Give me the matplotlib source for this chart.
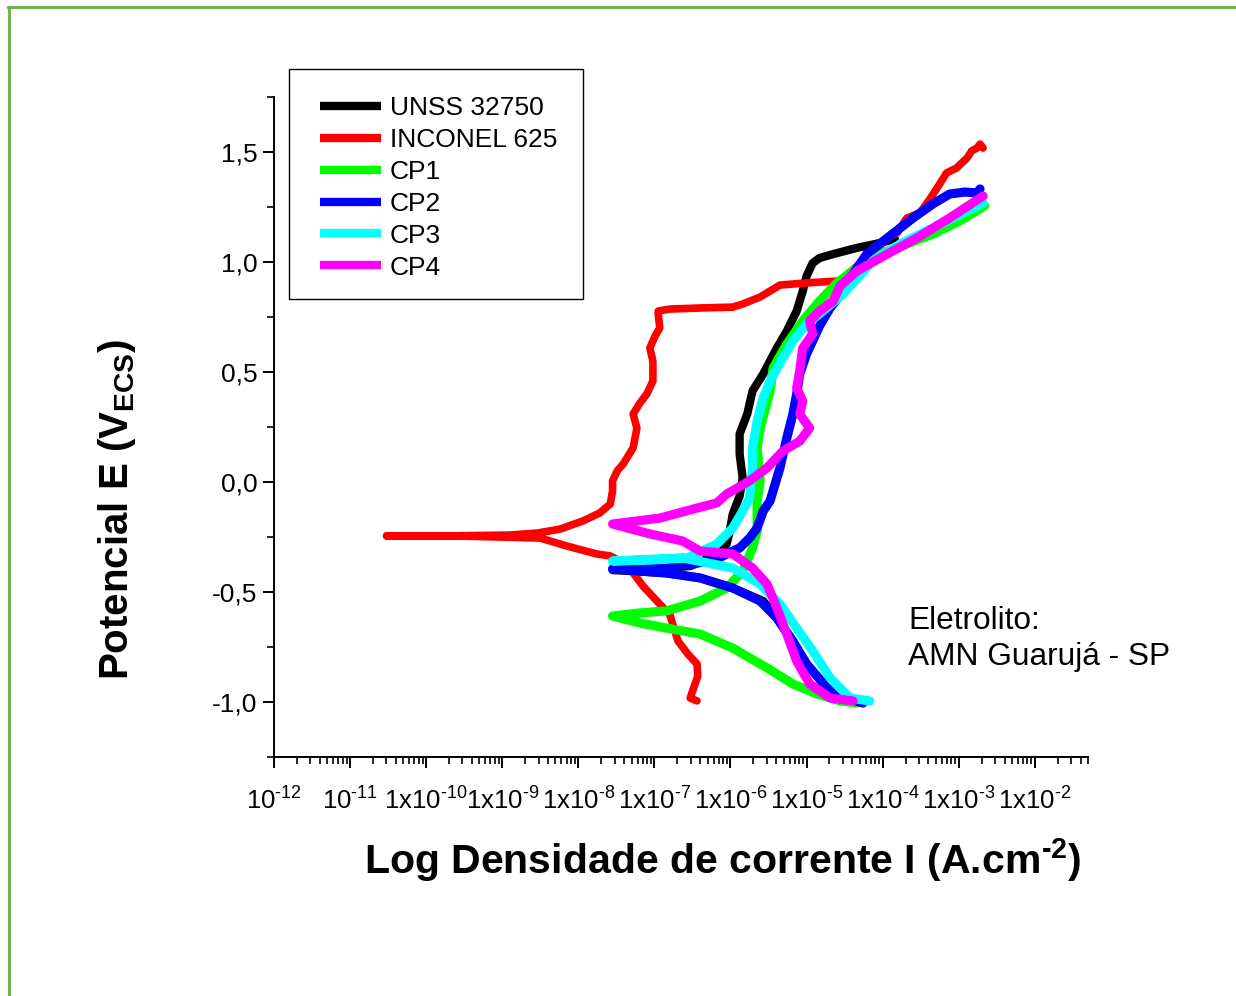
import matplotlib
matplotlib.use("Agg")
import matplotlib.pyplot as plt
import matplotlib.ticker as mticker
from matplotlib.lines import Line2D
from matplotlib.patches import Rectangle
import numpy as np

plt.rcParams['font.family'] = ['Liberation Sans', 'DejaVu Sans']
plt.rcParams['mathtext.fontset'] = 'custom'
plt.rcParams['mathtext.rm'] = 'Liberation Sans'
plt.rcParams['mathtext.it'] = 'Liberation Sans:italic'
plt.rcParams['mathtext.bf'] = 'Liberation Sans:bold'

# ---------------- data (log10 of current density in A/cm2, potential in V) -------------
unss_logI = [-4.37, -4.47, -4.73, -5.00, -5.22, -5.39, -5.57, -5.97, -6.40, -6.84, -7.55,
             -7.06, -6.53, -6.21, -6.05, -6.01, -5.97, -5.88, -5.84, -5.88, -5.88, -5.78,
             -5.71, -5.57, -5.39, -5.26, -5.13, -5.05, -5.00, -4.92, -4.83, -4.65, -4.34,
             -4.04, -3.84]
unss_E = [-1.005, -0.982, -0.936, -0.827, -0.709, -0.618, -0.541, -0.482, -0.436, -0.414, -0.400,
          -0.395, -0.382, -0.336, -0.282, -0.223, -0.145, -0.064, 0.018, 0.127, 0.218, 0.309,
          0.414, 0.491, 0.609, 0.686, 0.777, 0.868, 0.936, 0.995, 1.018, 1.036, 1.064,
          1.086, 1.105]

inconel_logI = [-6.44, -6.53, -6.43, -6.44, -6.56, -6.69, -6.76, -6.80, -6.93, -7.15, -7.36,
                -7.58, -7.76, -8.15, -8.50, -9.03, -9.69, -10.52,
                -9.69, -8.90, -8.54, -8.24, -7.94, -7.72, -7.58, -7.55, -7.55, -7.49, -7.41,
                -7.28, -7.23, -7.28, -7.19, -7.10, -7.02, -7.02, -7.06, -6.99, -6.93, -6.95,
                -6.95, -6.80, -6.40, -5.97, -5.84, -5.61, -5.48, -5.35, -5.00, -4.56, -4.23,
                -3.91, -3.81, -3.71, -3.68, -3.58, -3.51, -3.38, -3.25, -3.16, -3.03, -2.89,
                -2.83, -2.76, -2.72, -2.68]
inconel_E = [-0.995, -0.982, -0.882, -0.827, -0.782, -0.723, -0.645, -0.600, -0.555, -0.473, -0.377,
             -0.336, -0.327, -0.291, -0.255, -0.250, -0.245, -0.245,
             -0.245, -0.241, -0.232, -0.214, -0.177, -0.141, -0.100, -0.041, 0.005, 0.050, 0.082,
             0.155, 0.245, 0.309, 0.359, 0.400, 0.459, 0.550, 0.609, 0.664, 0.700, 0.764,
             0.777, 0.786, 0.791, 0.795, 0.809, 0.841, 0.868, 0.895, 0.905, 0.914, 1.014,
             1.114, 1.132, 1.186, 1.200, 1.214, 1.223, 1.286, 1.355, 1.405, 1.427, 1.473,
             1.505, 1.518, 1.536, 1.518]

cp1_logI = [-4.34, -4.56, -4.86, -5.18, -5.52, -5.97, -6.40, -6.84, -7.19, -7.55,
            -7.19, -6.84, -6.40, -6.05, -5.84, -5.71, -5.65, -5.65, -5.61, -5.65, -5.61,
            -5.48, -5.44, -5.26, -5.05, -4.83, -4.60, -4.34, -4.04, -3.68, -3.34, -2.99, -2.66]
cp1_E = [-1.005, -0.995, -0.964, -0.918, -0.845, -0.755, -0.691, -0.664, -0.641, -0.609,
         -0.595, -0.586, -0.541, -0.482, -0.405, -0.300, -0.223, -0.086, 0.005, 0.155, 0.245,
         0.414, 0.518, 0.627, 0.732, 0.823, 0.905, 0.973, 1.036, 1.082, 1.127, 1.186, 1.255]

cp2_logI = [-4.26, -4.47, -4.73, -5.00, -5.18, -5.39, -5.61, -5.97, -6.40, -6.84, -7.55,
            -7.06, -6.49, -6.18, -5.97, -5.88, -5.75, -5.65, -5.57, -5.48, -5.35, -5.26,
            -5.18, -5.13, -5.09, -5.00, -4.92, -4.83, -4.69, -4.52, -4.39, -4.21, -3.94,
            -3.60, -3.34, -3.12, -2.92, -2.76, -2.72]
cp2_E = [-1.005, -0.982, -0.936, -0.827, -0.723, -0.618, -0.541, -0.482, -0.436, -0.414, -0.395,
         -0.391, -0.373, -0.350, -0.314, -0.300, -0.255, -0.209, -0.132, -0.086, 0.064, 0.200,
         0.309, 0.400, 0.491, 0.582, 0.641, 0.709, 0.791, 0.868, 0.945, 1.036, 1.109,
         1.200, 1.264, 1.309, 1.318, 1.314, 1.332]

cp3_logI = [-4.17, -4.43, -4.69, -4.92, -5.13, -5.35, -5.61, -5.97, -6.63, -7.55,
            -7.06, -6.57, -6.18, -5.97, -5.84, -5.75, -5.71, -5.71, -5.65, -5.57, -5.48,
            -5.35, -5.18, -5.00, -4.83, -4.63, -4.52, -4.34, -4.13, -3.77, -3.34, -2.89, -2.68]
cp3_E = [-0.995, -0.982, -0.891, -0.768, -0.664, -0.555, -0.464, -0.391, -0.345, -0.359,
         -0.355, -0.345, -0.282, -0.209, -0.132, -0.073, 0.064, 0.155, 0.277, 0.382, 0.459,
         0.541, 0.641, 0.718, 0.764, 0.823, 0.855, 0.923, 1.005, 1.082, 1.155, 1.232, 1.268]

cp4_logI = [-4.39, -4.69, -4.96, -5.13, -5.26, -5.39, -5.52, -5.71, -5.97, -6.40, -6.63, -7.06,
            -7.55,
            -6.93, -6.49, -6.18, -6.05, -5.75, -5.52, -5.31, -5.09, -4.96, -5.09, -5.05,
            -5.13, -5.09, -5.05, -4.92, -4.96, -4.83, -4.65, -4.56, -4.34, -3.94, -3.55,
            -3.12, -2.68]
cp4_E = [-0.995, -0.982, -0.918, -0.814, -0.691, -0.573, -0.464, -0.391, -0.327, -0.314, -0.268,
         -0.236, -0.191,
         -0.164, -0.123, -0.095, -0.055, 0.005, 0.064, 0.141, 0.186, 0.245, 0.309, 0.368,
         0.427, 0.505, 0.609, 0.673, 0.732, 0.777, 0.823, 0.891, 0.959, 1.036, 1.109,
         1.200, 1.300]

series_names = ['UNSS 32750', 'INCONEL 625', 'CP1', 'CP2', 'CP3', 'CP4']
series_colors = ['#000000', '#FF0000', '#00FF00', '#0000FF', '#00FFFF', '#FF00FF']

x_tick_values = [1e-12, 1e-11, 1e-10, 1e-9, 1e-8, 1e-7, 1e-6, 1e-5, 1e-4, 1e-3, 1e-2]
x_tick_labels = ['$10^{\u201012}$', '$10^{\u201011}$', '$1\\mathrm{x}10^{\u201010}$',
                 '$1\\mathrm{x}10^{\u20109}$', '$1\\mathrm{x}10^{\u20108}$',
                 '$1\\mathrm{x}10^{\u20107}$', '$1\\mathrm{x}10^{\u20106}$',
                 '$1\\mathrm{x}10^{\u20105}$', '$1\\mathrm{x}10^{\u20104}$',
                 '$1\\mathrm{x}10^{\u20103}$', '$1\\mathrm{x}10^{\u20102}$']
y_tick_values = [-1.0, -0.5, 0.0, 0.5, 1.0, 1.5]
y_tick_labels = ['-1,0', '-0,5', '0,0', '0,5', '1,0', '1,5']

# ---------------- figure ----------------
W, H = 1236, 996
fig = plt.figure(figsize=(W / 100, H / 100), dpi=100)
fig.patch.set_facecolor('white')

# green page border
border_col = '#77B255'
fig.add_artist(Line2D([8 / W, 1.0], [1 - 7 / H, 1 - 7 / H], color=border_col, lw=2.2,
                      transform=fig.transFigure))
fig.add_artist(Line2D([9 / W, 9 / W], [1 - 7 / H, 0.0], color=border_col, lw=2.2,
                      transform=fig.transFigure))

ax = fig.add_axes([274 / W, 1 - 757 / H, (1088 - 274) / W, (757 - 97) / H])
ax.set_xscale('log')
ax.set_xlim(1e-12, 5e-2)
ax.set_ylim(-1.25, 1.75)

all_logI = [unss_logI, inconel_logI, cp1_logI, cp2_logI, cp3_logI, cp4_logI]
all_E = [unss_E, inconel_E, cp1_E, cp2_E, cp3_E, cp4_E]
widths = [6.0, 5.5, 6.6, 6.6, 6.6, 6.6]
for li, e, name, col, lw in zip(all_logI, all_E, series_names, series_colors, widths):
    cur = np.power(10.0, np.asarray(li))
    ax.plot(cur, e, color=col, lw=lw, label=name,
            solid_capstyle='round', solid_joinstyle='round')

ax.spines['top'].set_visible(False)
ax.spines['right'].set_visible(False)
for s in ['left', 'bottom']:
    ax.spines[s].set_linewidth(1.4)

ax.xaxis.set_major_locator(mticker.FixedLocator(x_tick_values))
ax.xaxis.set_major_formatter(mticker.FixedFormatter(x_tick_labels))
ax.xaxis.set_minor_locator(mticker.LogLocator(base=10, subs=np.arange(2, 10), numticks=30))
ax.xaxis.set_minor_formatter(mticker.NullFormatter())
ax.yaxis.set_major_locator(mticker.FixedLocator(y_tick_values))
ax.yaxis.set_major_formatter(mticker.FixedFormatter(y_tick_labels))
ax.yaxis.set_minor_locator(mticker.MultipleLocator(0.25))

ax.tick_params(which='major', direction='out', length=8, width=1.4, labelsize=19, pad=4)
ax.tick_params(which='minor', direction='out', length=5, width=1.2)
ax.tick_params(axis='x', which='major', labelsize=18.5, pad=14)

ax.set_xlabel('Log Densidade de corrente I (A.cm$^{\\mathbf{\u20102}}$)', fontsize=29.5,
              fontweight='bold', va='center')
ax.xaxis.set_label_coords((723 - 274) / 814, (757 - 860) / 660)
ax.set_ylabel(r'Potencial E (V$_{\mathbf{ECS}}$)', fontsize=29, fontweight='bold',
              va='center', ha='center')
ax.yaxis.set_label_coords((117 - 274) / 814, (757 - 509) / 660)

# legend frame (drawn as a plain box) and legend entries on top of it
frame = Rectangle((289 / W, 1 - 299 / H), (583 - 289) / W, (299 - 69) / H,
                  transform=fig.transFigure, fill=True, facecolor='white',
                  edgecolor='black', lw=1.0, zorder=6, clip_on=False)
ax.add_patch(frame)
leg = ax.legend(loc='upper left', bbox_to_anchor=(320 / W, 1 - 96 / H),
                bbox_transform=fig.transFigure, borderaxespad=0, fontsize=19,
                frameon=False, handlelength=2.3, handletextpad=0.35,
                labelspacing=0.3, borderpad=0.0)
leg.set_zorder(7)
for h in leg.get_lines():
    h.set_linewidth(6.0)
    h.set_solid_capstyle('butt')

fig.text(908 / W, 1 - 639 / H, 'Eletrolito:\nAMN Guarujá - SP', fontsize=22.8,
         ha='left', va='center', linespacing=1.25)

fig.savefig('out.png', dpi=100)
